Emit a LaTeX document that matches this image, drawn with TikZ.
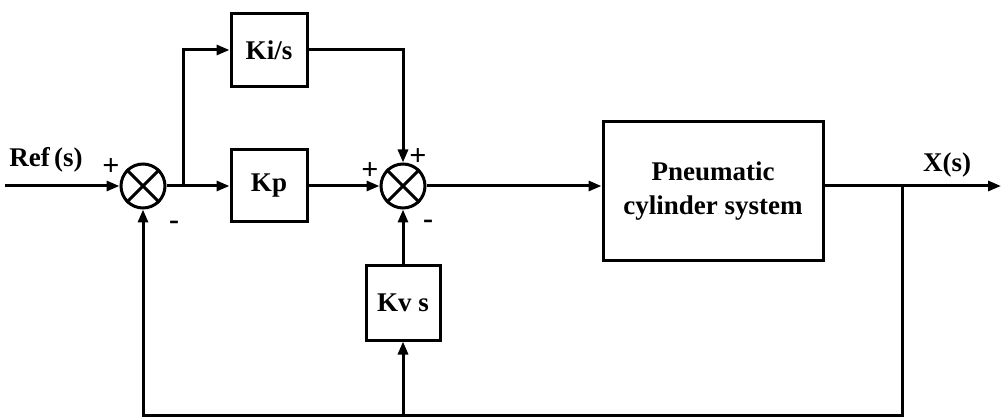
\documentclass[tikz,border=0pt]{standalone}
\usepackage{fontspec}
\setmainfont{Liberation Serif}
\usetikzlibrary{arrows.meta,calc}
\begin{document}
\begin{tikzpicture}[x=1pt,y=-1pt,
  line width=3pt,
  arr/.style={-{Triangle[length=13pt,width=10pt]}},
  blk/.style={draw,rectangle,inner sep=0pt,font=\fontsize{27}{34}\selectfont\bfseries,align=center},
  sumj/.style={draw,circle,inner sep=0pt,minimum size=44pt},
  lbl/.style={inner sep=0pt,font=\fontsize{27}{33}\selectfont\bfseries},
  sgn/.style={inner sep=0pt,font=\fontsize{30}{30}\selectfont\bfseries}]
\useasboundingbox (0,0) rectangle (1003,419);
% blocks
\node[blk,minimum width=76pt,minimum height=73pt] (ki) at (269,50) {Ki/s};
\node[blk,minimum width=76pt,minimum height=72pt] (kp) at (269,186) {Kp};
\node[blk,minimum width=74pt,minimum height=74pt] (kv) at (403,303) {Kv s};
\node[blk,minimum width=220pt,minimum height=139pt] (pn) at (713,191) {Pneumatic\\cylinder system};
% summing junctions
\node[sumj] (s1) at (143,186) {};
\node[sumj] (s2) at (403,186) {};
\foreach \s in {s1,s2}{
  \draw (\s.north east) -- (\s.south west);
  \draw (\s.north west) -- (\s.south east);
}
% coordinates
\coordinate (in) at (5,186);
\coordinate (b1) at (183,186);
\coordinate (b2) at (902,186);
\coordinate (out) at (1001,186);
\coordinate (fb) at (902,415);
\coordinate (b3) at (403,415);
% connectors
\draw[arr] (in) -- (s1.west);
\draw[arr] (s1.east) -- (kp.west);
\draw[arr] (b1) |- (ki.west);
\draw[arr] (ki.east) -| (s2.north);
\draw[arr] (kp.east) -- (s2.west);
\draw[arr] (s2.east) -- (s2.east -| pn.west);
\draw[arr] (pn.east |- s2.east) -- (out);
\draw[arr] (b2) -- (fb) -| (s1.south);
\draw[arr] (b3) -- (kv.south);
\draw[arr] (kv.north) -- (s2.south);
% labels
\node[lbl] (ref) at (46,160) {Ref\,(s)};
\node[lbl] (xs) at (947,165) {X(s)};
\node[sgn] (p1) at (111,167) {+};
\node[sgn] (m1) at (174,225) {-};
\node[sgn] (p2) at (370,171) {+};
\node[sgn] (p3) at (418,157) {+};
\node[sgn] (m2) at (428,224) {-};
\end{tikzpicture}
\end{document}
